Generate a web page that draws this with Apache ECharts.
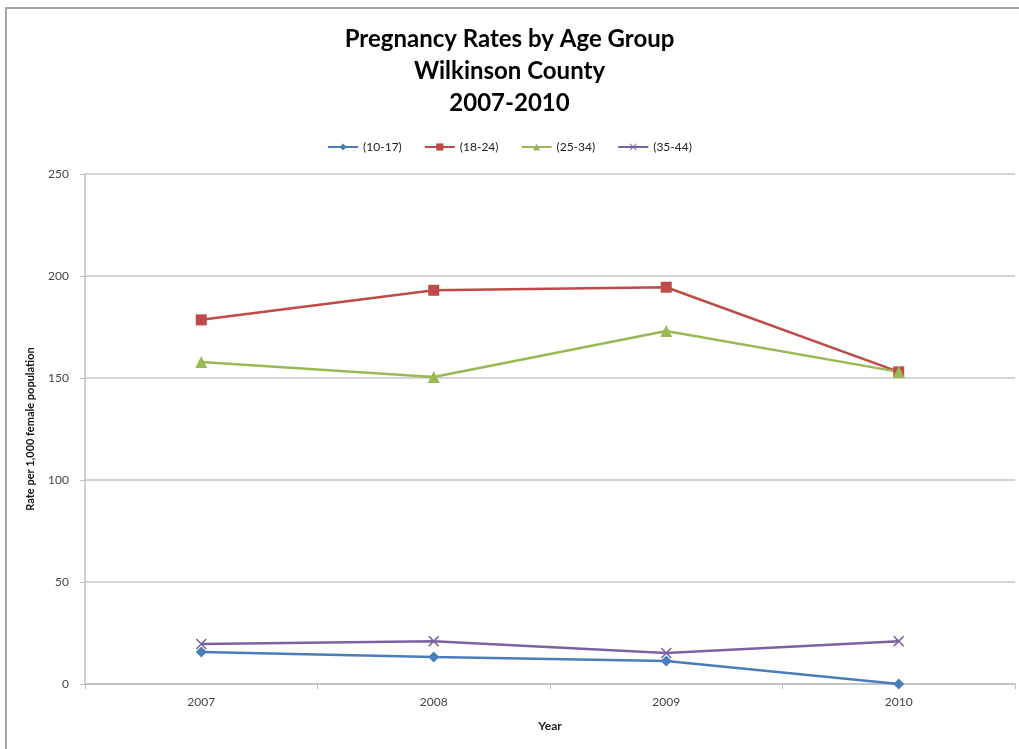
<!DOCTYPE html>
<html>
<head>
<meta charset="utf-8">
<script src="https://cdn.jsdelivr.net/npm/echarts@6/dist/echarts.min.js"></script>
<style>
  html, body { margin: 0; padding: 0; background: #fff; }
  #frame { position: absolute; left: 5px; top: 7px; width: 1014px; height: 742px;
    border-top: 2px solid #a6a6a6; border-left: 2px solid #a6a6a6; }
  #chart { position: absolute; left: 0; top: 0; width: 1019px; height: 749px; }
</style>
</head>
<body>
<div id="frame"></div>
<div id="chart"></div>
<script>
const years = ['2007', '2008', '2009', '2010']
const age10to17 = [15.7, 13.2, 11.3, 0]
const age18to24 = [178.5, 193, 194.5, 153]
const age25to34 = [157.8, 150.5, 173, 153]
const age35to44 = [19.6, 21, 15.2, 21]

const xMark = 'path://M0,1L1,0L5,4L9,0L10,1L6,5L10,9L9,10L5,6L1,10L0,9L4,5Z'
const font = 'Lato, "Open Sans", sans-serif'

function makeSeries(name, data, color, symbol, size) {
  return {
    name: name,
    type: 'line',
    data: data,
    color: color,
    symbol: symbol,
    symbolSize: size,
    lineStyle: { width: 2.5, color: color },
    itemStyle: { color: color },
    animation: false
  }
}

const chart = echarts.init(document.getElementById('chart'))
chart.setOption({
  backgroundColor: 'transparent',
  textStyle: { fontFamily: font },
  title: {
    text: 'Pregnancy Rates by Age Group\nWilkinson County\n2007-2010',
    left: 'center',
    top: 18,
    textStyle: { fontSize: 24, fontWeight: 'bold', lineHeight: 32, color: '#000', fontFamily: font }
  },
  legend: {
    top: 136,
    left: 'center',
    itemWidth: 30,
    itemHeight: 9,
    itemGap: 22,
    textStyle: { fontSize: 12, color: '#222', fontFamily: font },
    data: ['(10-17)', '(18-24)', '(25-34)', '(35-44)']
  },
  grid: { left: 85, right: 4, top: 174, bottom: 65 },
  xAxis: {
    type: 'category',
    data: years,
    boundaryGap: true,
    name: 'Year',
    nameLocation: 'middle',
    nameGap: 36,
    nameTextStyle: { fontSize: 12, fontWeight: 'bold', color: '#222', fontFamily: font },
    axisLine: { lineStyle: { color: '#bfbfbf', width: 1.5 } },
    axisTick: { show: true, length: 5, lineStyle: { color: '#bfbfbf' } },
    axisLabel: { fontSize: 12, color: '#444', margin: 12 }
  },
  yAxis: {
    type: 'value',
    min: 0,
    max: 250,
    interval: 50,
    name: 'Rate per 1,000 female population',
    nameLocation: 'middle',
    nameGap: 49,
    nameTextStyle: { fontSize: 11, fontWeight: 'bold', color: '#111', fontFamily: font },
    axisLine: { show: true, lineStyle: { color: '#bfbfbf', width: 1.5 } },
    axisTick: { show: true, length: 5, lineStyle: { color: '#bfbfbf' } },
    axisLabel: { fontSize: 12, color: '#444', margin: 16 },
    splitLine: { lineStyle: { color: '#c6c6c6', width: 1.5 } }
  },
  series: [
    makeSeries('(10-17)', age10to17, '#4a7ebb', 'diamond', 11),
    makeSeries('(18-24)', age18to24, '#be4b48', 'rect', 11),
    makeSeries('(25-34)', age25to34, '#98b954', 'triangle', 12),
    makeSeries('(35-44)', age35to44, '#7d60a0', xMark, 11)
  ]
})
</script>
</body>
</html>
